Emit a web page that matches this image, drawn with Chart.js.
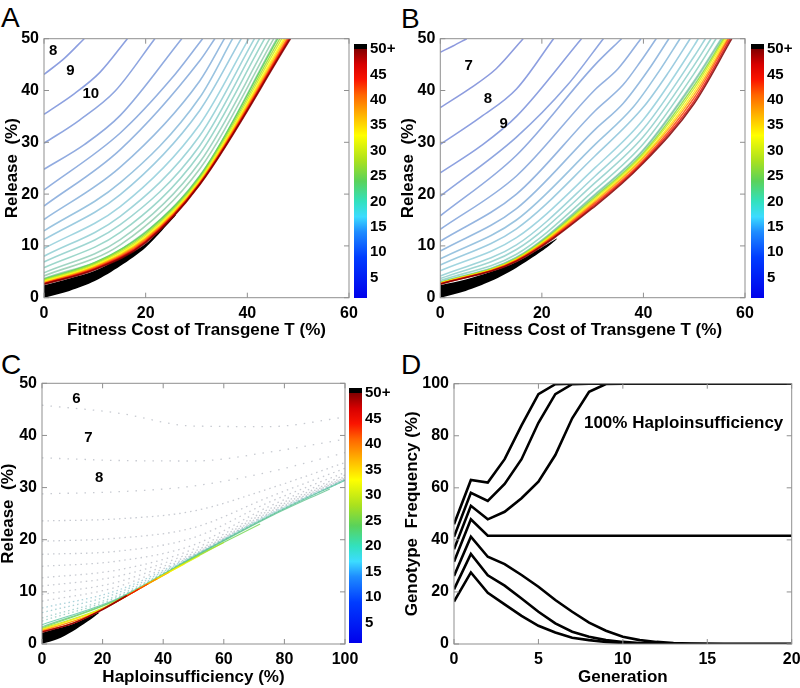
<!DOCTYPE html>
<html lang="en">
<head>
<meta charset="UTF-8">
<title>Release thresholds and genotype frequencies</title>
<script src="https://cdn.jsdelivr.net/npm/chart.js@4"></script>
<style>
  body { margin: 0; width: 800px; height: 688px; overflow: hidden; background: #fff; position: relative;
         font-family: "Liberation Sans", Arial, sans-serif; }
  canvas, .letter { position: absolute; }
  .letter { font-size: 28px; line-height: 28px; color: #000; }
</style>
</head>
<body>
<div class="letter" style="left:1px;top:4px">A</div>
<div class="letter" style="left:401px;top:5px">B</div>
<div class="letter" style="left:1px;top:351px">C</div>
<div class="letter" style="left:401px;top:351px">D</div>

<canvas id="chartA" width="400" height="341" style="left:0;top:0"></canvas>
<canvas id="barA" width="55" height="282" style="left:350px;top:30px"></canvas>
<canvas id="chartB" width="402" height="341" style="left:398px;top:0"></canvas>
<canvas id="barB" width="55" height="282" style="left:747px;top:30px"></canvas>
<canvas id="chartC" width="402" height="348" style="left:-2px;top:340px"></canvas>
<canvas id="barC" width="55" height="283" style="left:345px;top:374px"></canvas>
<canvas id="chartD" width="410" height="348" style="left:400px;top:340px"></canvas>

<script>
// ---- data ----
// panel A: contour levels (generations) and their paths [fitness cost %, release %]
const levelsA = [8, 9, 10, 11, 12, 13, 14, 15, 16, 17, 18, 19, 20, 21, 22, 23, 24, 27, 30, 33, 36, 39, 42, 45, 48, 50];
const curvesA = [
  [[0, 43.1], [4, 46.2], [7.9, 50]],
  [[0, 35.4], [6, 39.4], [11, 43.5], [16.4, 50]],
  [[0, 29.8], [7, 34.3], [14, 39.9], [21.8, 50]],
  [[0, 24.8], [8, 29.6], [15, 35.2], [27.1, 50]],
  [[0, 20.8], [15, 31.8], [25, 42.2], [31.2, 50]],
  [[0, 17.7], [15, 28.6], [30.6, 45.7], [33.6, 50]],
  [[0, 15.1], [15, 25.2], [30.6, 41.8], [35.5, 50]],
  [[0, 12.9], [15, 22.2], [30.6, 38.6], [37.1, 50]],
  [[0, 11.2], [15, 19.9], [30.6, 36.1], [38.8, 50]],
  [[0, 9.5], [15, 17.6], [30.6, 33.4], [40.3, 50]],
  [[0, 8.0], [15, 15.7], [30.6, 31.2], [41.4, 50]],
  [[0, 6.9], [15, 14.1], [30.6, 29.3], [42.4, 50]],
  [[0, 5.8], [15, 12.6], [30.6, 27.7], [43.4, 50]],
  [[0, 4.8], [15, 11.2], [30.6, 26.1], [44.4, 50]],
  [[0, 4.2], [15, 10.2], [30.6, 24.8], [45.2, 50]],
  [[0, 3.7], [15, 9.2], [30.6, 23.5], [45.8, 50]],
  [[0, 3.6], [10, 6.8], [20, 12.6], [30.6, 23.4], [46.0, 50]],
  [[0, 3.45], [10, 6.6], [20, 12.3], [30.6, 23.1], [46.4, 50]],
  [[0, 3.3], [10, 6.4], [20, 12.0], [30.6, 22.8], [46.8, 50]],
  [[0, 3.15], [10, 6.2], [20, 11.75], [30.6, 22.55], [47.2, 50]],
  [[0, 3.0], [10, 6.05], [20, 11.5], [30.6, 22.35], [47.5, 50]],
  [[0, 2.9], [10, 5.9], [20, 11.3], [30.6, 22.2], [47.8, 50]],
  [[0, 2.8], [10, 5.75], [20, 11.1], [30.6, 22.05], [48.0, 50]],
  [[0, 2.72], [10, 5.6], [20, 10.9], [30.6, 21.95], [48.2, 50]],
  [[0, 2.65], [10, 5.5], [20, 10.75], [30.6, 21.85], [48.35, 50]],
  [[0, 2.6], [10, 5.4], [20, 10.6], [30.6, 21.75], [48.5, 50]]
];
const blackA = [[0, 0], [5, 1.3], [10, 3.2], [15, 6.1], [20, 9.7], [25, 14.9], [26, 16.0], [25, 15.4],
  [20, 10.4], [15, 7.6], [10, 5.2], [5, 3.7], [0, 2.4]];
const tagsA = [{ x: 1.8, y: 47.7, text: '8' }, { x: 5.2, y: 43.7, text: '9' }, { x: 9.2, y: 39.3, text: '10' }];

// panel B
const levelsB = [6, 7, 8, 9, 10, 11, 12, 13, 14, 15, 16, 17, 18, 19, 20, 21, 22, 26, 30, 34, 38, 42, 46, 50];
const curvesB = [
  [[0, 47.4], [2.5, 48.6], [5.2, 50]],
  [[0, 36.7], [6, 40.5], [11, 44.2], [16.3, 50]],
  [[0, 29.6], [8, 34.9], [15, 40.3], [22.3, 50]],
  [[0, 24.1], [8, 29.3], [15, 35], [27.8, 50]],
  [[0, 19.6], [15, 31], [25, 41], [32.1, 50]],
  [[0, 15.8], [15, 27.5], [30.5, 45], [35.7, 50]],
  [[0, 13.2], [15, 23.5], [30.5, 40.2], [35, 44.2], [39.5, 50]],
  [[0, 10.9], [15, 20.0], [30.5, 36.1], [36, 41.1], [39.5, 45.7], [42.5, 50]],
  [[0, 9.0], [15, 17.2], [30.5, 32.5], [36, 37.5], [41, 44.0], [45, 50]],
  [[0, 7.5], [15, 15.0], [30.5, 29.6], [38, 36.8], [43, 43.6], [47.2, 50]],
  [[0, 6.3], [15, 13.3], [30.5, 27.4], [40, 36.8], [45, 43.6], [49.2, 50]],
  [[0, 5.2], [15, 11.6], [30.5, 25.1], [40, 34.4], [50, 48.7], [50.8, 50]],
  [[0, 4.2], [15, 10.2], [30.5, 23.5], [40, 32.6], [50, 46.6], [52.2, 50]],
  [[0, 3.7], [15, 9.3], [30.5, 22.2], [40, 31.1], [50, 44.9], [53.3, 50]],
  [[0, 3.3], [15, 8.4], [30.5, 20.9], [40, 29.7], [50, 43.3], [54.3, 50]],
  [[0, 3.0], [15, 7.8], [30.5, 20.0], [40, 28.6], [50, 41.9], [55.3, 50]],
  [[0, 2.95], [15, 7.7], [30.5, 19.8], [40, 28.4], [50, 41.6], [55.5, 50]],
  [[0, 2.9], [15, 7.6], [30.5, 19.5], [40, 28.0], [50, 41.0], [55.8, 50]],
  [[0, 2.85], [15, 7.5], [30.5, 19.2], [40, 27.7], [50, 40.4], [56.0, 50]],
  [[0, 2.8], [15, 7.4], [30.5, 18.9], [40, 27.3], [50, 39.8], [56.3, 50]],
  [[0, 2.75], [15, 7.3], [30.5, 18.6], [40, 27.0], [50, 39.2], [56.6, 50]],
  [[0, 2.7], [15, 7.2], [30.5, 18.3], [40, 26.6], [50, 38.6], [56.8, 50]],
  [[0, 2.65], [15, 7.1], [30.5, 18.0], [40, 26.3], [50, 38.0], [57.1, 50]],
  [[0, 2.6], [15, 7.0], [30.5, 17.7], [40, 26.0], [50, 37.5], [57.4, 50]]
];
const blackB = [[0, 0], [5, 1.3], [10, 3.2], [15, 5.8], [20, 9.0], [23, 11.4], [20, 9.7], [15, 6.9],
  [10, 5.0], [5, 3.5], [0, 2.4]];
const tagsB = [{ x: 5.6, y: 44.7, text: '7' }, { x: 9.4, y: 38.3, text: '8' }, { x: 12.5, y: 33.5, text: '9' }];

// panel C: paths [haploinsufficiency %, release %]
const levelsC = [6, 7, 8, 9, 10, 11, 12, 13, 14, 15, 16, 17, 18, 19, 20, 21, 22, 25, 28, 31, 34, 37, 40, 43, 46, 50];
const curvesC = [
  [[0, 45.8], [25, 44.3], [50, 41.8], [75, 41.7], [100, 43.5]],
  [[0, 35.7], [25, 35.2], [50, 35.1], [75, 36.8], [100, 39.3]],
  [[0, 28.8], [25, 29.2], [50, 30.3], [75, 33.0], [100, 36.7]],
  [[0, 23.6], [25, 24.0], [50, 25.5], [75, 29.8], [100, 34.8]],
  [[0, 19.7], [25, 20.3], [50, 22.3], [75, 28.2], [100, 33.7]],
  [[0, 17.2], [25, 17.8], [50, 20.4], [75, 27.2], [100, 32.9]],
  [[0, 14.9], [25, 15.9], [50, 19.0], [75, 26.4], [100, 32.4]],
  [[0, 12.7], [25, 14.2], [50, 18.2], [75, 25.9], [100, 32.1]],
  [[0, 11.1], [25, 13.0], [50, 17.7], [75, 25.6], [100, 31.9]],
  [[0, 9.5], [25, 11.9], [50, 17.4], [75, 25.3], [100, 31.8]],
  [[0, 8.2], [25, 11.0], [50, 17.2], [75, 25.1], [100, 31.7]],
  [[0, 6.9], [25, 10.3], [50, 17.05], [75, 24.9], [100, 31.6]],
  [[0, 6.0], [25, 9.8], [50, 16.95], [75, 24.8], [100, 31.55]],
  [[0, 5.0], [25, 9.3], [50, 16.85], [75, 24.7], [100, 31.5]],
  [[0, 4.4], [25, 9.0], [50, 16.8], [75, 24.6], [100, 31.45]],
  [[0, 3.7], [25, 8.75], [50, 16.75], [75, 24.5], [100, 31.4]],
  [[0, 3.3], [25, 8.6], [50, 16.6], [75, 24.35], [95, 29.75]],
  [[0, 3.1], [25, 8.5], [50, 16.5], [72, 23.0]],
  [[0, 2.95], [20, 6.9], [40, 13.3], [60, 19.45]],
  [[0, 2.8], [20, 6.8], [40, 13.2], [52, 16.9]],
  [[0, 2.7], [20, 6.75], [35, 11.55], [47, 15.35]],
  [[0, 2.6], [15, 5.35], [30, 9.95], [42, 13.75]],
  [[0, 2.5], [15, 5.3], [25, 8.3], [38, 12.5]],
  [[0, 2.42], [10, 3.95], [20, 6.65], [35, 11.5]],
  [[0, 2.35], [10, 3.93], [20, 6.62], [32, 10.55]],
  [[0, 2.25], [10, 3.91], [20, 6.6], [28, 9.3]]
];
const blackC = [[0, 0], [5, 0.9], [10, 2.4], [15, 4.3], [19, 6.1], [15, 5.1], [10, 3.8], [5, 2.95], [0, 2.1]];
const tagsC = [{ x: 11.4, y: 47.1, text: '6' }, { x: 15.3, y: 39.5, text: '7' }, { x: 18.9, y: 31.8, text: '8' }];

// panel D: genotype frequency (%) per generation
const generations = [0, 1, 2, 3, 4, 5, 6, 7, 8, 9, 10, 11, 12, 13, 14, 15, 16, 17, 18, 19, 20];
const freq1 = [46, 63, 62, 71, 84, 96, 99.8, 100, 100, 100, 100, 100, 100, 100, 100, 100, 100, 100, 100, 100, 100];
const freq2 = [41.2, 58.1, 55, 61.5, 71, 85, 96, 99.8, 100, 100, 100, 100, 100, 100, 100, 100, 100, 100, 100, 100, 100];
const freq3 = [36.4, 53.1, 47.9, 50.8, 56, 62.4, 72.6, 86.7, 96.9, 99.9, 100, 100, 100, 100, 100, 100, 100, 100, 100, 100, 100];
const freq4 = [31.6, 47.9, 41.6, 41.6, 41.6, 41.6, 41.6, 41.6, 41.6, 41.6, 41.6, 41.6, 41.6, 41.6, 41.6, 41.6, 41.6, 41.6, 41.6, 41.6, 41.6];
const freq5 = [26.1, 41.2, 33.5, 30.7, 26.5, 22, 16.9, 12.4, 8.2, 5.1, 2.8, 1.5, 0.8, 0.4, 0.2, 0.1, 0, 0, 0, 0, 0];
const freq6 = [21, 34.6, 26.4, 22.4, 17.5, 12.4, 7.9, 4.7, 2.8, 1.5, 0.8, 0.4, 0.2, 0.1, 0, 0, 0, 0, 0, 0, 0];
const freq7 = [16.3, 27.5, 19.7, 15.2, 10.8, 7, 4.4, 2.4, 1.5, 0.8, 0.4, 0.2, 0.1, 0, 0, 0, 0, 0, 0, 0, 0];
const tagsD = [{ x: 13.6, y: 84.9, text: '100% Haploinsufficiency', size: 17 }];

const colorbarTicks = [5, 10, 15, 20, 25, 30, 35, 40, 45, 50];

// ---- styling ----
const FONT = "'Liberation Sans', Arial, sans-serif";
Chart.defaults.font.family = FONT;
Chart.defaults.color = '#000';

const jetStops = [
  [1, [0, 0, 235]], [9, [0, 60, 255]], [14, [30, 140, 255]], [17, [60, 220, 255]],
  [20, [50, 225, 190]], [24, [90, 210, 90]], [28, [170, 225, 30]], [33, [255, 255, 0]],
  [37, [255, 180, 0]], [41, [255, 100, 0]], [44, [250, 20, 0]], [47, [215, 0, 0]], [50, [130, 0, 0]]
];

function jet(v) {
  for (let i = 1; i < jetStops.length; i++) {
    const [v0, c0] = jetStops[i - 1];
    const [v1, c1] = jetStops[i];
    if (v <= v1) {
      const t = Math.max(0, (v - v0) / (v1 - v0));
      return c0.map((c, k) => Math.round(c + (c1[k] - c) * t));
    }
  }
  return jetStops[jetStops.length - 1][1];
}
const rgba = (c, a) => `rgba(${c[0]},${c[1]},${c[2]},${a})`;

function lineStyle(level, panel) {
  const c = jet(level);
  if (panel === 'C') {
    if (level < 17) return { borderColor: 'rgba(175,180,190,0.7)', borderDash: level < 9 ? [1.5, 7] : [1.5, 4], borderWidth: 1.3 };
    if (level < 21) {
      const g = c.map(x => Math.round(x * 0.35 + 175 * 0.65));
      return { borderColor: rgba(g, 0.7), borderDash: [1.5, 3], borderWidth: 1.3 };
    }
    if (level < 23) return { borderColor: rgba(c.map(x => Math.round(x * 0.7 + 120 * 0.3)), 0.75), borderWidth: 1.1 };
    return { borderColor: rgba(c, 0.8), borderWidth: level === 50 ? 1.6 : 1.1 };
  }
  if (level < 24) {
    const m = c.map(x => Math.round(x * 0.5 + 160 * 0.5));
    return { borderColor: rgba(m, 0.65), borderWidth: 1.6 };
  }
  return { borderColor: rgba(c, 0.85), borderWidth: level === 50 ? 1.6 : 1.4 };
}

function contourSets(levels, curves, black, panel) {
  const sets = curves.map((pts, i) => Object.assign({
    data: pts.map(p => ({ x: p[0], y: p[1] })),
    showLine: true, pointRadius: 0, cubicInterpolationMode: 'monotone',
    order: 100 - levels[i]
  }, lineStyle(levels[i], panel)));
  sets.push({
    data: black.map(p => ({ x: p[0], y: p[1] })),
    showLine: true, pointRadius: 0, tension: 0.3, borderWidth: 0,
    backgroundColor: '#000', fill: 'shape', order: 1000
  });
  return sets;
}

// box round the plot with inward tick marks on all four sides
const frameTicks = {
  id: 'frameTicks',
  afterDatasetsDraw(chart) {
    const { ctx, chartArea: a, scales: { x, y } } = chart;
    const len = 5;
    ctx.save();
    ctx.strokeStyle = '#8f8f8f';
    ctx.lineWidth = 1;
    ctx.beginPath();
    x.ticks.forEach(t => {
      const px = x.getPixelForValue(t.value);
      ctx.moveTo(px, a.bottom); ctx.lineTo(px, a.bottom - len);
      ctx.moveTo(px, a.top); ctx.lineTo(px, a.top + len);
    });
    y.ticks.forEach(t => {
      const py = y.getPixelForValue(t.value);
      ctx.moveTo(a.left, py); ctx.lineTo(a.left + len, py);
      ctx.moveTo(a.right, py); ctx.lineTo(a.right - len, py);
    });
    ctx.stroke();
    ctx.strokeRect(a.left, a.top, a.right - a.left, a.bottom - a.top);
    ctx.restore();
  }
};

function textTags(items) {
  return {
    id: 'textTags',
    afterDatasetsDraw(chart) {
      const { ctx, scales: { x, y } } = chart;
      ctx.save();
      ctx.fillStyle = '#000';
      ctx.textAlign = 'center';
      ctx.textBaseline = 'middle';
      items.forEach(it => {
        ctx.font = `bold ${it.size || 15}px ${FONT}`;
        ctx.fillText(it.text, x.getPixelForValue(it.x), y.getPixelForValue(it.y));
      });
      ctx.restore();
    }
  };
}

function buildPanel(id, g, xAxis, yAxis, datasets, tags) {
  return new Chart(document.getElementById(id), {
    type: 'scatter',
    data: { datasets },
    options: {
      responsive: false, animation: false, events: [],
      layout: { padding: { top: g.padTop, right: g.padRight, left: 0, bottom: 0 } },
      plugins: { legend: { display: false }, tooltip: { enabled: false } },
      scales: {
        x: {
          type: 'linear', min: xAxis.min, max: xAxis.max,
          grid: { display: false, drawTicks: false }, border: { display: false },
          ticks: { stepSize: xAxis.step, padding: 6, maxRotation: 0, font: { size: 16, weight: 'bold' } },
          title: { display: true, text: xAxis.title, padding: 0, font: { size: 17, weight: 'bold' } },
          afterFit: s => { s.height = g.xH; }
        },
        y: {
          type: 'linear', min: yAxis.min, max: yAxis.max,
          grid: { display: false, drawTicks: false }, border: { display: false },
          ticks: { stepSize: yAxis.step, padding: 5, font: { size: 16, weight: 'bold' } },
          title: { display: true, text: yAxis.title, padding: { top: g.titlePad, bottom: 0 }, font: { size: 17, weight: 'bold' } },
          afterFit: s => { s.width = g.yW; }
        }
      }
    },
    plugins: [frameTicks, textTags(tags)]
  });
}

function colorbarFill(chart) {
  const { ctx, chartArea: a, scales } = chart;
  if (!a) return '#000';
  const y = scales.y;
  const span = a.bottom - a.top;
  const off = v => Math.min(1, Math.max(0, (a.bottom - y.getPixelForValue(v)) / span));
  const grad = ctx.createLinearGradient(0, a.bottom, 0, a.top);
  jetStops.forEach(([v, c]) => grad.addColorStop(off(v), rgba(c, 1)));
  grad.addColorStop(off(50.05), '#000');
  grad.addColorStop(1, '#000');
  return grad;
}

function buildColorbar(id) {
  return new Chart(document.getElementById(id), {
    type: 'bar',
    data: {
      labels: [''],
      datasets: [{ data: [[1, 51]], backgroundColor: c => colorbarFill(c.chart), borderWidth: 0,
                   barPercentage: 1, categoryPercentage: 1 }]
    },
    options: {
      responsive: false, animation: false, events: [],
      layout: { padding: { left: 4, top: 14, bottom: 14, right: 0 } },
      plugins: { legend: { display: false }, tooltip: { enabled: false } },
      scales: {
        x: { display: false },
        y: {
          position: 'right', min: 1, max: 51,
          grid: { display: false, drawTicks: false }, border: { display: false },
          afterBuildTicks: s => { s.ticks = colorbarTicks.map(v => ({ value: v })); },
          ticks: { padding: 3, font: { size: 15, weight: 'bold' }, callback: v => (v === 50 ? '50+' : String(v)) },
          afterFit: s => { s.width = 38; }
        }
      }
    }
  });
}

const releaseAxis = { min: 0, max: 50, step: 10, title: 'Release  (%)' };
const costAxis = { min: 0, max: 60, step: 20, title: 'Fitness Cost of Transgene T (%)' };

buildPanel('chartA', { padTop: 38.7, padRight: 51, yW: 44, xH: 43.3, titlePad: 1.8 },
  costAxis, releaseAxis, contourSets(levelsA, curvesA, blackA, 'A'), tagsA);
buildColorbar('barA');

buildPanel('chartB', { padTop: 38.7, padRight: 55, yW: 42.3, xH: 43.3, titlePad: 0 },
  costAxis, releaseAxis, contourSets(levelsB, curvesB, blackB, 'B'), tagsB);
buildColorbar('barB');

buildPanel('chartC', { padTop: 43.3, padRight: 55, yW: 44, xH: 44, titlePad: 0 },
  { min: 0, max: 100, step: 20, title: 'Haploinsufficiency (%)' }, releaseAxis,
  contourSets(levelsC, curvesC, blackC, 'C'), tagsC);
buildColorbar('barC');

const freqLines = [freq1, freq2, freq3, freq4, freq5, freq6, freq7].map(series => ({
  data: series.map((v, i) => ({ x: generations[i], y: v })),
  showLine: true, pointRadius: 0, tension: 0, borderColor: '#000', borderWidth: 2.6
}));
buildPanel('chartD', { padTop: 43.7, padRight: 18.3, yW: 54, xH: 44, titlePad: 1.8 },
  { min: 0, max: 20, step: 5, title: 'Generation' },
  { min: 0, max: 100, step: 20, title: 'Genotype  Frequency (%)' }, freqLines, tagsD);
</script>
</body>
</html>
